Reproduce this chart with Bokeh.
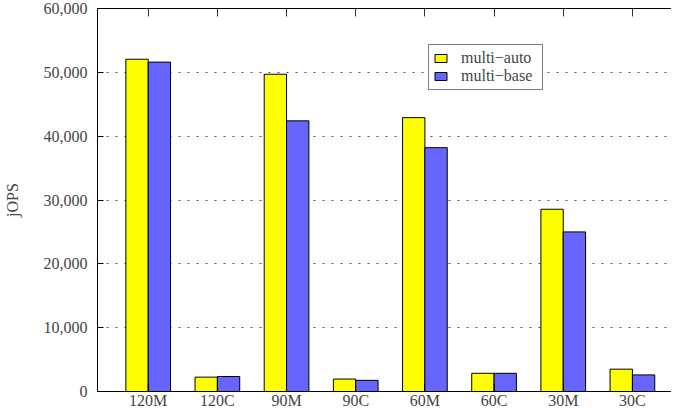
from bokeh.plotting import figure
from bokeh.models import (ColumnDataSource, FixedTicker, LinearAxis, Legend, LegendItem,
                          NumeralTickFormatter, Range1d)
from bokeh.transform import dodge
from bokeh.embed import file_html
from bokeh.resources import INLINE

categories = ["120M", "120C", "90M", "90C", "60M", "60C", "30M", "30C"]
multi_auto = [52050, 2250, 49700, 1950, 42900, 2850, 28550, 3500]
multi_base = [51600, 2350, 42400, 1750, 38200, 2850, 25000, 2600]
y_ticks = [0, 10000, 20000, 30000, 40000, 50000, 60000]

FONT = "Liberation Serif"
xs = list(range(len(categories)))
src = ColumnDataSource(dict(x=xs, auto=multi_auto, base=multi_base))

p = figure(width=671, height=411, output_backend="svg", toolbar_location=None,
           x_range=Range1d(-0.733, 7.565), y_range=Range1d(0, 60000),
           min_border_left=94, min_border_right=0, min_border_top=8, min_border_bottom=0,
           outline_line_color=None, x_axis_location=None, y_axis_location=None)
p.background_fill_color = "white"
p.border_fill_color = "white"

bw = 0.323
r1 = p.vbar(x=dodge("x", -bw / 2, range=p.x_range), top="auto", width=bw, source=src,
            fill_color="#ffff00", line_color="black", line_width=1)
r2 = p.vbar(x=dodge("x", bw / 2, range=p.x_range), top="base", width=bw, source=src,
            fill_color="#6666ff", line_color="black", line_width=1)

# left axis
yax = LinearAxis(ticker=FixedTicker(ticks=y_ticks), formatter=NumeralTickFormatter(format="0,0"))
yax.axis_label = "jOPS"
yax.axis_label_text_font = FONT
yax.axis_label_text_font_size = "16px"
yax.axis_label_text_font_style = "normal"
yax.axis_label_standoff = 20
yax.major_label_text_font = FONT
yax.major_label_text_font_size = "16px"
yax.major_label_standoff = 10
yax.major_tick_in = 6
yax.major_tick_out = 0
yax.minor_tick_line_color = None
yax.axis_line_color = "black"
yax.major_tick_line_color = "black"
p.add_layout(yax, "left")

# bottom axis
xax = LinearAxis(ticker=FixedTicker(ticks=xs),
                 major_label_overrides={i: c for i, c in enumerate(categories)})
xax.major_label_text_font = FONT
xax.major_label_text_font_size = "16px"
xax.major_label_standoff = 0
xax.major_tick_in = 8
xax.major_tick_out = 0
xax.minor_tick_line_color = None
xax.axis_line_color = "black"
p.add_layout(xax, "below")

# top axis (mirror tics, no labels)
tax = LinearAxis(ticker=FixedTicker(ticks=xs),
                 major_label_overrides={i: "" for i in xs})
tax.major_label_standoff = 0
tax.major_tick_in = 8
tax.major_tick_out = 0
tax.minor_tick_line_color = None
tax.axis_line_color = "black"
tax.major_tick_line_color = "#333333"
p.add_layout(tax, "above")

# grid
p.ygrid.grid_line_color = "#555555"
p.ygrid.grid_line_dash = "2 7"
p.ygrid.grid_line_width = 1
p.ygrid.ticker = FixedTicker(ticks=[10000, 20000, 30000, 40000, 50000])
p.xgrid.grid_line_color = None

legend = Legend(items=[LegendItem(label="multi\u2212auto", renderers=[r1]),
                       LegendItem(label="multi\u2212base", renderers=[r2])],
                location=(331, 301))
legend.label_text_font = FONT
legend.label_text_font_size = "16px"
legend.glyph_width = 15
legend.glyph_height = 10
legend.label_standoff = 13
legend.label_height = 12
legend.label_width = 77
legend.spacing = 0
legend.padding = 4
legend.margin = 0
legend.border_line_color = "black"
legend.border_line_width = 1
legend.background_fill_color = "white"
legend.background_fill_alpha = 1
p.add_layout(legend, "center")

open("out.html", "w").write(file_html(p, INLINE))
